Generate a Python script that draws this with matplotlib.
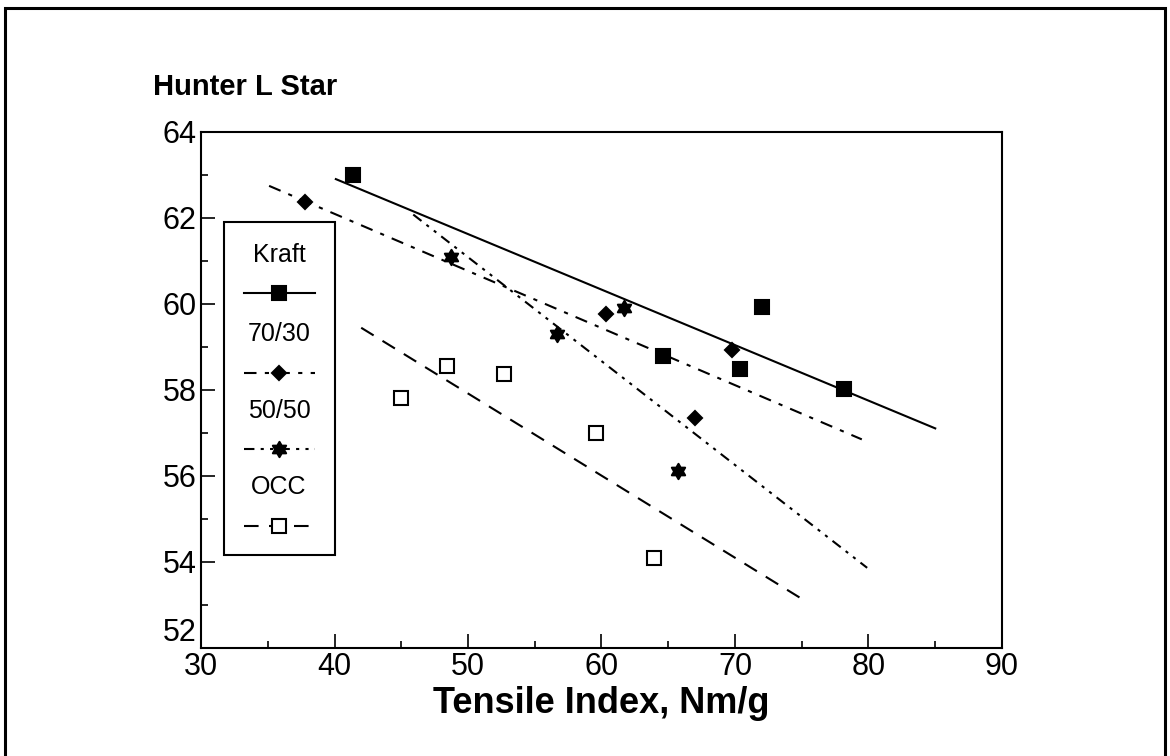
import numpy as np
import matplotlib
matplotlib.use("Agg")
import matplotlib.pyplot as plt
from matplotlib.lines import Line2D
from matplotlib.patches import Rectangle
from matplotlib.path import Path

plt.rcParams['font.family'] = ['Liberation Sans', 'DejaVu Sans']

# Tensile index (Nm/g) and Hunter L* for each furnish
kraft_x = [41.4, 64.6, 70.4, 72.0, 78.2]
kraft_y = [63.0, 58.8, 58.48, 59.93, 58.03]

mix7030_x = [37.8, 60.3, 67.0, 69.8]
mix7030_y = [62.38, 59.77, 57.36, 58.93]

mix5050_x = [48.7, 56.7, 61.7, 65.7]
mix5050_y = [61.1, 59.31, 59.91, 56.11]

occ_x = [45.0, 48.4, 52.7, 59.6, 63.9]
occ_y = [57.82, 58.55, 58.38, 57.0, 54.1]

series_names = ["Kraft", "70/30", "50/50", "OCC"]
fit_ranges = [(40.1, 85.0), (35.1, 79.5), (45.9, 79.9), (42.0, 75.0)]

xticks = [30, 40, 50, 60, 70, 80, 90]
yticks = [52, 54, 56, 58, 60, 62, 64]

# Six-pointed star marker (two overlapping triangles)
ang = np.deg2rad(90 + 30 * np.arange(12))
rad = np.where(np.arange(12) % 2 == 0, 1.0, 1 / np.sqrt(3))
star_verts = np.column_stack([rad * np.cos(ang), rad * np.sin(ang)])
star_verts = np.vstack([star_verts, star_verts[:1]])
hexagram = Path(star_verts, closed=True)

styles = [
    dict(marker='s', ms=10, mfc='black', ls='-', dashes=None),
    dict(marker='D', ms=7.5, mfc='black', ls='--', dashes=(6, 4, 2, 4)),
    dict(marker=hexagram, ms=11, mfc='black', ls='--', dashes=(5, 3, 1.5, 3, 1.5, 3)),
    dict(marker='s', ms=10, mfc='white', ls='--', dashes=(7, 5)),
]

data = [(kraft_x, kraft_y), (mix7030_x, mix7030_y), (mix5050_x, mix5050_y), (occ_x, occ_y)]

fig = plt.figure(figsize=(11.7, 7.56), dpi=100)
ax = fig.add_axes([0.1718, 0.1429, 0.6846, 0.6825])

for (xs, ys), st, (x0, x1) in zip(data, styles, fit_ranges):
    slope, icpt = np.polyfit(xs, ys, 1)
    fx = np.array([x0, x1])
    line_kw = dict(color='black', lw=1.5, ls=st['ls'])
    if st['dashes'] is not None:
        line_kw['dashes'] = st['dashes']
    ax.plot(fx, slope * fx + icpt, **line_kw)
    ax.plot(xs, ys, ls='none', marker=st['marker'], ms=st['ms'],
            mfc=st['mfc'], mec='black', mew=1.5, zorder=5)

ax.set_xlim(30, 90)
ax.set_ylim(52, 64)
ax.set_xticks(xticks)
ax.set_yticks(yticks)
ax.set_xticks(np.arange(35, 90, 10), minor=True)
ax.set_yticks(np.arange(53, 64, 2), minor=True)
ax.tick_params(which='both', direction='in', top=False, right=False,
               labelsize=22, width=1.2)
ax.tick_params(which='major', length=10, pad=3)
ax.tick_params(which='minor', length=5)
for sp in ax.spines.values():
    sp.set_linewidth(1.5)

# lift the lowest y label so it clears the first x label
ax.yaxis.get_major_ticks()[0].label1.set_verticalalignment('bottom')

ax.set_xlabel("Tensile Index, Nm/g", fontsize=26, fontweight='bold', labelpad=3)
fig.text(0.131, 0.885, "Hunter L Star", fontsize=21, fontweight='bold',
         ha='left', va='center')

# Stacked legend: name above a line sample
lx0, lx1, ly0, ly1 = 31.7, 40.0, 54.17, 61.9
ax.add_patch(Rectangle((lx0, ly0), lx1 - lx0, ly1 - ly0, fill=True,
                       facecolor='white', edgecolor='black', lw=1.5, zorder=6))
h = ly1 - ly0
w = lx1 - lx0
text_fracs = [0.097, 0.335, 0.568, 0.797]
line_fracs = [0.213, 0.454, 0.683, 0.914]
for name, st, tf, lf in zip(series_names, styles, text_fracs, line_fracs):
    ax.text(lx0 + w / 2, ly1 - tf * h, name, ha='center', va='center',
            fontsize=18, zorder=7)
    yy = ly1 - lf * h
    line_kw = dict(color='black', lw=1.5, ls=st['ls'], zorder=7)
    if st['dashes'] is not None:
        line_kw['dashes'] = st['dashes']
    ax.add_line(Line2D([lx0 + 0.18 * w, lx1 - 0.18 * w], [yy, yy], **line_kw))
    ax.add_line(Line2D([lx0 + w / 2], [yy], ls='none', marker=st['marker'],
                       ms=st['ms'], mfc=st['mfc'], mec='black', mew=1.5, zorder=8))

# Page frame
fig.patches.append(Rectangle((0.0043, -0.02), 0.9914, 1.009, transform=fig.transFigure,
                             fill=False, edgecolor='black', lw=2.2))

fig.savefig("out.png", dpi=100)
